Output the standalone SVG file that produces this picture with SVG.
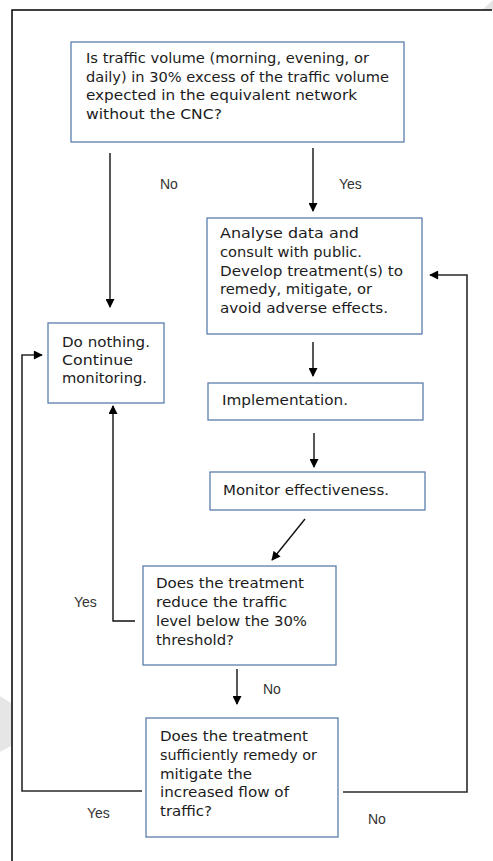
<svg xmlns="http://www.w3.org/2000/svg" width="493" height="861" viewBox="0 0 493 861">
<style>
.bg{fill:#ffffff}
.box rect{fill:#ffffff;stroke:#5b7fab;stroke-width:1.3}
.box text{font-family:"DejaVu Sans","Liberation Sans",sans-serif;font-size:14.5px;fill:#1c1c1c}
.lbl{font-family:"Liberation Sans",Arial,sans-serif;font-size:14px;fill:#333333}
.conn line,.conn polyline{fill:none;stroke:#111111;stroke-width:1.4}
.loop{stroke:#2a2a2a !important;stroke-width:1.6 !important}
.frame{fill:none;stroke:#000000;stroke-width:1.5}
</style>
<defs>
<marker id="ah" viewBox="0 0 10 10" refX="9" refY="5" markerWidth="10" markerHeight="9" markerUnits="userSpaceOnUse" orient="auto">
<path d="M0,0 L10,5 L0,10 z" fill="#000000"/>
</marker>
</defs>
<rect class="bg" x="0" y="0" width="493" height="861"/>
<polygon points="482,10 493,0 493,10" fill="#e4e4e4"/>
<polygon points="0,696 11,703 11,746 0,752" fill="#e6e6e6"/>
<polyline class="frame" points="12,861 12,10 492,10"/>

<g id="q1" class="box">
<rect x="71" y="42" width="333" height="100"/>
<text x="86" y="63" textLength="283" lengthAdjust="spacingAndGlyphs">Is traffic volume (morning, evening, or</text>
<text x="86" y="82" textLength="303" lengthAdjust="spacingAndGlyphs">daily) in 30% excess of  the traffic volume</text>
<text x="86" y="100" textLength="271" lengthAdjust="spacingAndGlyphs">expected in the equivalent network</text>
<text x="86" y="119" textLength="136" lengthAdjust="spacingAndGlyphs">without the CNC?</text>
</g>

<g id="analyse" class="box">
<rect x="207" y="218" width="215" height="116"/>
<text x="220" y="238" textLength="139" lengthAdjust="spacingAndGlyphs">Analyse data and</text>
<text x="220" y="257" textLength="142" lengthAdjust="spacingAndGlyphs">consult with public.</text>
<text x="220" y="276" textLength="183" lengthAdjust="spacingAndGlyphs">Develop treatment(s) to</text>
<text x="220" y="294" textLength="152" lengthAdjust="spacingAndGlyphs">remedy, mitigate, or</text>
<text x="220" y="313" textLength="168" lengthAdjust="spacingAndGlyphs">avoid adverse effects.</text>
</g>

<g id="donothing" class="box">
<rect x="48" y="323" width="116" height="80"/>
<text x="62" y="347" textLength="88" lengthAdjust="spacingAndGlyphs">Do nothing.</text>
<text x="62" y="365" textLength="71" lengthAdjust="spacingAndGlyphs">Continue</text>
<text x="62" y="383" textLength="85" lengthAdjust="spacingAndGlyphs">monitoring.</text>
</g>

<g id="implementation" class="box">
<rect x="208" y="383" width="215" height="37"/>
<text x="222" y="405" textLength="126" lengthAdjust="spacingAndGlyphs">Implementation.</text>
</g>

<g id="monitor" class="box">
<rect x="210" y="472" width="215" height="38"/>
<text x="223" y="495" textLength="166" lengthAdjust="spacingAndGlyphs">Monitor effectiveness.</text>
</g>

<g id="q2" class="box">
<rect x="143" y="566" width="193" height="99"/>
<text x="156" y="588" textLength="148" lengthAdjust="spacingAndGlyphs">Does the treatment</text>
<text x="156" y="607" textLength="131" lengthAdjust="spacingAndGlyphs">reduce the traffic</text>
<text x="156" y="626" textLength="151" lengthAdjust="spacingAndGlyphs">level below the 30%</text>
<text x="156" y="645" textLength="78" lengthAdjust="spacingAndGlyphs">threshold?</text>
</g>

<g id="q3" class="box">
<rect x="146" y="718" width="192" height="119"/>
<text x="160" y="741" textLength="148" lengthAdjust="spacingAndGlyphs">Does the treatment</text>
<text x="160" y="760" textLength="157" lengthAdjust="spacingAndGlyphs">sufficiently remedy or</text>
<text x="160" y="779" textLength="92" lengthAdjust="spacingAndGlyphs">mitigate the</text>
<text x="160" y="797" textLength="129" lengthAdjust="spacingAndGlyphs">increased flow of</text>
<text x="160" y="816" textLength="52" lengthAdjust="spacingAndGlyphs">traffic?</text>
</g>

<g id="connectors" class="conn">
<line x1="110" y1="153" x2="110" y2="307" marker-end="url(#ah)"/>
<line x1="313" y1="148" x2="313" y2="211" marker-end="url(#ah)"/>
<line x1="313" y1="342" x2="313" y2="376" marker-end="url(#ah)"/>
<line x1="314" y1="433" x2="314" y2="467" marker-end="url(#ah)"/>
<line x1="305" y1="519" x2="272" y2="560" marker-end="url(#ah)"/>
<polyline points="135,621 113,621 113,406" marker-end="url(#ah)"/>
<line x1="237" y1="669" x2="237" y2="704" marker-end="url(#ah)"/>
<polyline class="loop" points="142,791 22,791 22,355 42,355" marker-end="url(#ah)"/>
<polyline class="loop" points="343,792 467,792 467,275 430,275" marker-end="url(#ah)"/>
</g>

<g id="labels">
<text class="lbl" x="160" y="189">No</text>
<text class="lbl" x="339" y="189">Yes</text>
<text class="lbl" x="74" y="607">Yes</text>
<text class="lbl" x="263" y="694">No</text>
<text class="lbl" x="87" y="818">Yes</text>
<text class="lbl" x="368" y="824">No</text>
</g>
</svg>
